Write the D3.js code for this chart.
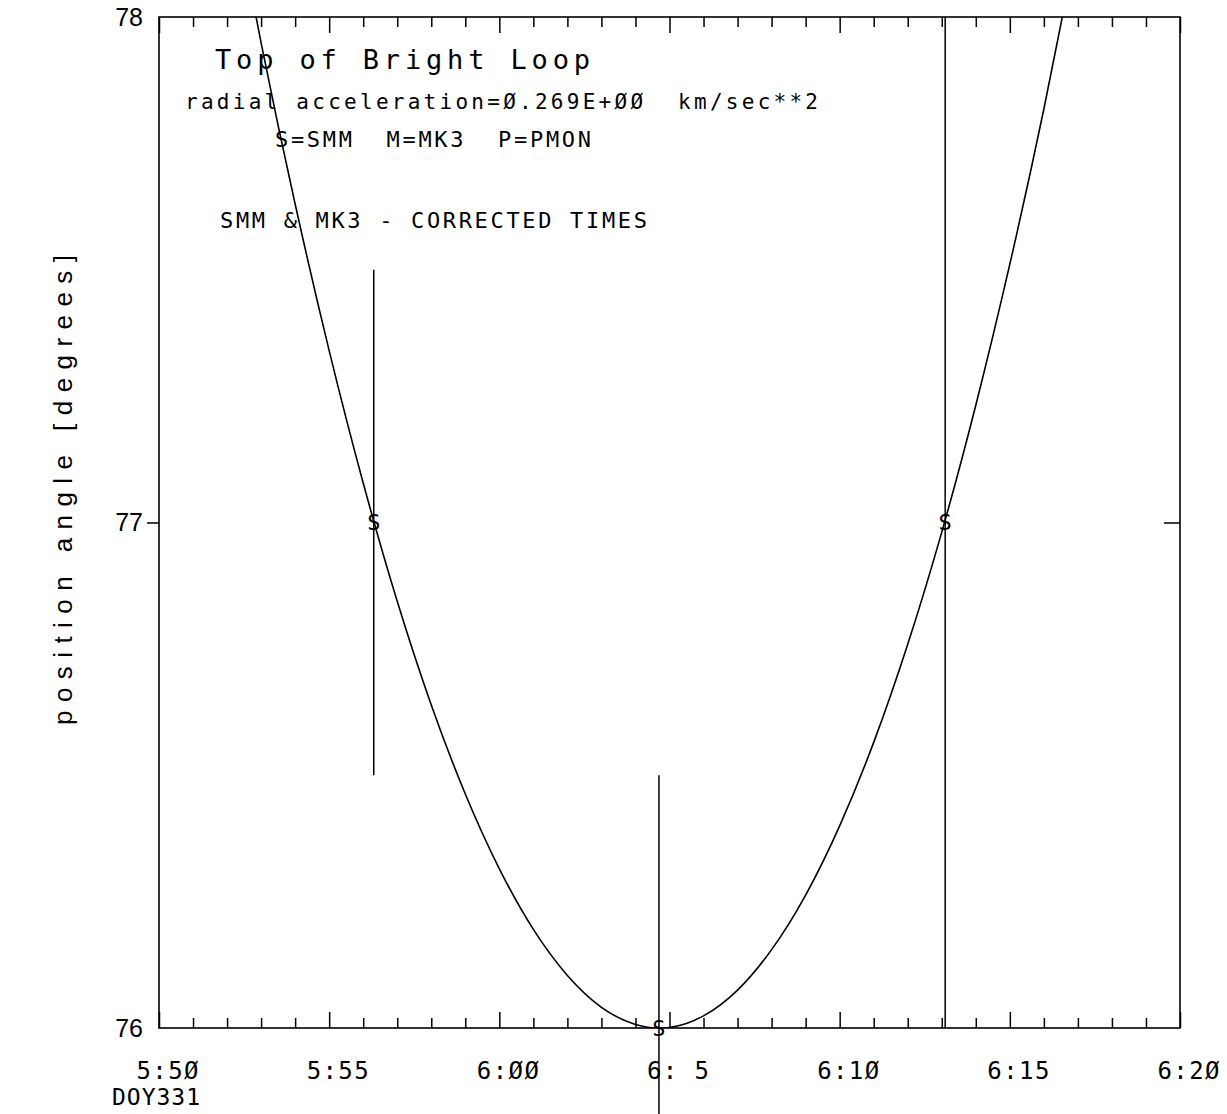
<!DOCTYPE html>
<html>
<head>
<meta charset="utf-8">
<script src="https://cdn.jsdelivr.net/npm/d3@7"></script>
<style>
  body { margin: 0; background: #fff; }
  text { font-family: "Liberation Sans", Arial, sans-serif; fill: #000; white-space: pre; }
  .mono { font-family: "DejaVu Sans Mono", "Liberation Mono", monospace; }
</style>
</head>
<body>
<svg id="svg"></svg>
<script>
////////////////////////////////////////////////////////////////////////
// Data (time is minutes after 5:50, DOY331)

let majorTicks = [0, 5, 10, 15, 20, 25, 30];
let tickLabels = ["5:5Ø", "5:55", "6:ØØ", "6: 5", "6:1Ø", "6:15", "6:2Ø"];
let minorTicks = [1, 2, 3, 4, 6, 7, 8, 9, 11, 12, 13, 14, 16, 17, 18, 19,
                  21, 22, 23, 24, 26, 27, 28, 29];
let angleLabels = [76, 77, 78];

// SMM observations
let obsTime = [6.31, 14.69, 23.10];
let obsAngle = [77.0, 76.0, 77.0];
let obsErr = [0.5, 0.5, 1.0];
let obsSymbol = ["S", "S", "S"];

// fitted curve
let fitTime = [2, 3, 4, 5, 6, 7, 8, 9, 10, 11, 12, 13, 14, 15,
               16, 17, 18, 19, 20, 21, 22, 23, 24, 25, 26, 27];
let fitAngle = [78.297, 77.949, 77.630, 77.340, 77.078, 76.844, 76.639,
                76.463, 76.315, 76.195, 76.104, 76.041, 76.007, 76.001,
                76.024, 76.075, 76.155, 76.263, 76.400, 76.565, 76.759,
                76.981, 77.232, 77.511, 77.818, 78.154];

////////////////////////////////////////////////////////////////////////
// Setup

let winWidth = 1227;
let winHeight = 1114;
let pLeft = 159, pRight = 1180, pTop = 17, pBottom = 1028;

let svg = d3.select("#svg")
            .attr("width", winWidth)
            .attr("height", winHeight);

let x = d3.scaleLinear().domain([0, 30]).range([pLeft, pRight]);
let y = d3.scaleLinear().domain([76, 78]).range([pBottom, pTop]);

svg.append("clipPath").attr("id", "plot")
   .append("rect")
   .attr("x", pLeft).attr("y", pTop)
   .attr("width", pRight - pLeft).attr("height", pBottom - pTop);

// frame
svg.append("rect")
   .attr("x", pLeft).attr("y", pTop)
   .attr("width", pRight - pLeft).attr("height", pBottom - pTop)
   .attr("fill", "none").attr("stroke", "black").attr("stroke-width", 1.6);

function noDomain(g) {
  g.select(".domain").remove();
  g.selectAll("line").attr("stroke", "black").attr("stroke-width", 1.5);
}

// ticks along bottom and top, pointing into the plot
svg.append("g").attr("transform", "translate(0," + pBottom + ")")
   .call(d3.axisTop(x).tickValues(minorTicks).tickSize(10).tickFormat(""))
   .call(noDomain);
svg.append("g").attr("transform", "translate(0," + pBottom + ")")
   .call(d3.axisTop(x).tickValues(majorTicks).tickSize(16).tickFormat(""))
   .call(noDomain);
svg.append("g").attr("transform", "translate(0," + pTop + ")")
   .call(d3.axisBottom(x).tickValues(minorTicks).tickSize(10).tickFormat(""))
   .call(noDomain);
svg.append("g").attr("transform", "translate(0," + pTop + ")")
   .call(d3.axisBottom(x).tickValues(majorTicks).tickSize(16).tickFormat(""))
   .call(noDomain);

// x tick labels
let xl = svg.append("g").attr("transform", "translate(0," + pBottom + ")")
   .call(d3.axisBottom(x).tickValues(majorTicks).tickSize(0).tickPadding(34)
           .tickFormat(function(d, i) { return tickLabels[i]; }))
   .call(noDomain);
xl.selectAll("text")
  .attr("class", "mono")
  .attr("x", 8)
  .attr("fill", "black")
  .attr("textLength", 62).attr("lengthAdjust", "spacing")
  .style("font-size", "24px")
  .style("font-family", "DejaVu Sans Mono, monospace");

svg.append("text")
   .attr("class", "mono")
   .attr("x", 112).attr("y", 1105)
   .attr("textLength", 88).attr("lengthAdjust", "spacing")
   .style("font-size", "23px")
   .text("DOY331");

// y ticks at 77 (left outward, right inward)
svg.append("g").attr("transform", "translate(" + pLeft + ",0)")
   .call(d3.axisLeft(y).tickValues([77]).tickSize(12).tickFormat(""))
   .call(noDomain);
svg.append("g").attr("transform", "translate(" + pRight + ",0)")
   .call(d3.axisLeft(y).tickValues([77]).tickSize(16).tickFormat(""))
   .call(noDomain);

let yl = svg.append("g").attr("transform", "translate(" + pLeft + ",0)")
   .call(d3.axisLeft(y).tickValues(angleLabels).tickSize(0).tickPadding(16)
           .tickFormat(d3.format("d")))
   .call(noDomain);
yl.selectAll("text")
  .attr("fill", "black")
  .style("font-size", "25px")
  .style("font-family", "Liberation Sans, Arial, sans-serif");

svg.append("text")
   .attr("transform", "translate(63,490) rotate(-90)")
   .attr("text-anchor", "middle")
   .attr("dominant-baseline", "central")
   .attr("textLength", 470).attr("lengthAdjust", "spacing")
   .style("font-size", "26px")
   .text("position angle [degrees]");

////////////////////////////////////////////////////////////////////////
// Curve and observations

let fitData = fitTime.map(function(t, i) { return { t: t, a: fitAngle[i] }; });
let line = d3.line()
             .x(function(d) { return x(d.t); })
             .y(function(d) { return y(d.a); })
             .curve(d3.curveNatural);

svg.append("path")
   .datum(fitData)
   .attr("clip-path", "url(#plot)")
   .attr("d", line)
   .attr("fill", "none")
   .attr("stroke", "black")
   .attr("stroke-width", 1.6);

let obs = obsTime.map(function(t, i) {
  return { t: t, a: obsAngle[i], e: obsErr[i], s: obsSymbol[i] };
});

svg.selectAll(".err").data(obs).enter().append("line")
   .attr("class", "err")
   .attr("x1", function(d) { return x(d.t); })
   .attr("x2", function(d) { return x(d.t); })
   .attr("y1", function(d) { return y(d.a + d.e); })
   .attr("y2", function(d) { return y(d.a - d.e); })
   .attr("stroke", "black")
   .attr("stroke-width", 1.5);

svg.selectAll(".sym").data(obs).enter().append("text")
   .attr("class", "sym mono")
   .attr("x", function(d) { return x(d.t); })
   .attr("y", function(d) { return y(d.a); })
   .attr("text-anchor", "middle")
   .attr("dominant-baseline", "central")
   .style("font-size", "22px")
   .text(function(d) { return d.s; });

////////////////////////////////////////////////////////////////////////
// Annotations

function note(tx, ty, size, len, str) {
  svg.append("text")
     .attr("class", "mono")
     .attr("x", tx).attr("y", ty)
     .attr("textLength", len).attr("lengthAdjust", "spacing")
     .style("font-size", size + "px")
     .text(str);
}

note(215, 69, 27, 375, "Top of Bright Loop");
note(185, 109, 21, 633, "radial acceleration=Ø.269E+ØØ  km/sec**2");
note(275, 147, 22, 316, "S=SMM  M=MK3  P=PMON");
note(220, 228, 22, 427, "SMM & MK3 - CORRECTED TIMES");
</script>
</body>
</html>
